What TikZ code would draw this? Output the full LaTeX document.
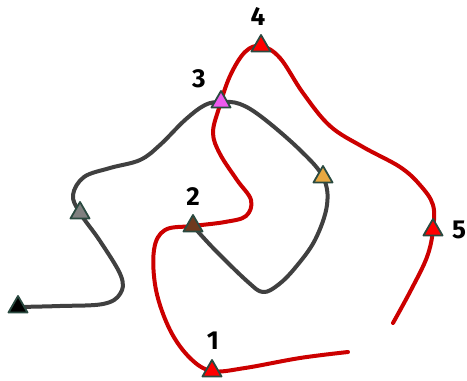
\documentclass[tikz,border=0pt]{standalone}
\usepackage{fontspec}
\setmainfont{Fira Sans}
\usetikzlibrary{shapes.geometric}
\definecolor{gline}{HTML}{404040}
\definecolor{rline}{HTML}{CC0000}
\definecolor{tedge}{HTML}{2A4A40}
\definecolor{tmag}{HTML}{EE5AEE}
\definecolor{torange}{HTML}{E8A840}
\definecolor{tbrown}{HTML}{6E3A1E}
\definecolor{tgray}{HTML}{808080}
\definecolor{tred}{HTML}{FF0000}
\tikzset{
  tri/.style={regular polygon, regular polygon sides=3, minimum size=22pt, inner sep=0pt, draw=tedge, line width=1.8pt, line join=round},
  grayline/.style={draw=gline, line width=4pt, line cap=round, line join=round},
  redline/.style={draw=rline, line width=4pt, line cap=round, line join=round},
  lab/.style={font=\bfseries\fontsize{26}{26}\selectfont, inner sep=0pt}
}
\begin{document}
\begin{tikzpicture}[x=1pt,y=-1pt]
\useasboundingbox (0,0) rectangle (467,381);
% anchor coordinates of the markers
\coordinate (pk) at (18,307);
\coordinate (pg) at (80,213);
\coordinate (p3) at (221,102);
\coordinate (po) at (323,177);
\coordinate (p2) at (193,226);
\coordinate (p1) at (212,371);
\coordinate (p4) at (261,46);
\coordinate (p5) at (433,230);
\coordinate (rs) at (393,323);
\coordinate (re) at (348,352);
% gray curve
\draw[grayline] plot[smooth, tension=0.6] coordinates {(pk) (60,306) (103,304) (120,294) (121,276) (100,241) (pg) (73,195) (84,177) (110,168) (140,160) (160,145) (185,120) (205,105) (p3) (240,104) (263,118) (300,150) (po) (327,205) (315,240) (295,268) (278,285) (263,292) (248,282) (215,250) (p2)};
% red curve
\draw[redline] plot[smooth, tension=0.6] coordinates {(rs) (411,290) (427,257) (p5) (433,205) (420,185) (400,167) (363,147) (330,126) (303,93) (280,58) (p4) (245,52) (230,76) (219,108) (213,133) (220,154) (237,180) (251,200) (246,216) (225,222) (p2) (165,230) (154,250) (156,290) (170,330) (190,358) (p1) (245,368) (300,358) (re)};
% markers
\node[tri, fill=black] (k) at (pk) {};
\node[tri, fill=tgray] (g) at (pg) {};
\node[tri, fill=tmag] (n3) at (p3) {};
\node[tri, fill=torange] (o) at (po) {};
\node[tri, fill=tbrown] (n2) at (p2) {};
\node[tri, fill=tred] (n1) at (p1) {};
\node[tri, fill=tred] (n4) at (p4) {};
\node[tri, fill=tred] (n5) at (p5) {};
% labels
\node[lab] (l3) at (199,79) {3};
\node[lab] (l4) at (258,16) {4};
\node[lab] (l2) at (193,197) {2};
\node[lab] (l1) at (213,341) {1};
\node[lab] (l5) at (459,230) {5};
\end{tikzpicture}
\end{document}
